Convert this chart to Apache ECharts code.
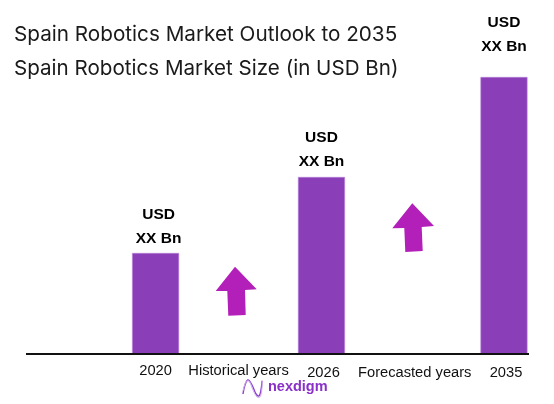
<!DOCTYPE html>
<html>
<head>
<meta charset="utf-8">
<style>html,body{margin:0;padding:0;background:#fff}#main{width:554px;height:404px}</style>
<script src="https://cdn.jsdelivr.net/npm/echarts@6/dist/echarts.min.js"></script>
</head>
<body>
<div id="main"></div>
<script>
// data
var years = ['2020', '2026', '2035'];
var barValues = [101, 177, 277];
var valueText = ['USD', 'XX Bn'];
var periods = ['Historical years', 'Forecasted years'];
// slots on the category axis, bars are not evenly spaced in the picture
var yearSlots = [15, 35, 57];
var periodSlots = [25, 46];
var labelGaps = [2, 3, 18];
var labelShift = [3, 0, 0];
var lowLabels = ['2026', '2035', 'Forecasted years']; // sit a bit lower in the picture
var slotCount = 61;

var categories = [];
var values = [];
for (var i = 0; i < slotCount; i++) {
  categories.push('');
  values.push(null);
}
years.forEach(function (y, k) {
  categories[yearSlots[k]] = y;
  values[yearSlots[k]] = {
    value: barValues[k],
    label: { distance: labelGaps[k], offset: [labelShift[k], 0] }
  };
});
periods.forEach(function (p, k) {
  categories[periodSlots[k]] = p;
});

function arrow(points) {
  return {
    type: 'polygon',
    shape: { points: points },
    style: { fill: '#b31fb9' }
  };
}

var chart = echarts.init(document.getElementById('main'), null, { renderer: 'canvas' });
chart.setOption({
  backgroundColor: '#ffffff',
  animation: false,
  title: [
    {
      text: 'Spain Robotics Market Outlook to 2035',
      left: 9, top: 19,
      textStyle: { fontFamily: 'Inter', fontSize: 20.7, fontWeight: 'normal', color: '#1a1a1a' }
    },
    {
      text: 'Spain Robotics Market Size (in USD Bn)',
      left: 9, top: 53,
      textStyle: { fontFamily: 'Inter', fontSize: 20.6, fontWeight: 'normal', color: '#1a1a1a' }
    }
  ],
  grid: { left: 27, right: 21, top: 54, bottom: 50 },
  xAxis: {
    type: 'category',
    data: categories,
    axisLine: { show: false },
    axisTick: { show: false },
    axisLabel: {
      interval: 0,
      margin: 9,
      fontFamily: 'Liberation Sans',
      fontSize: 14.7,
      color: '#111111',
      formatter: function (v) {
        if (lowLabels.indexOf(v) >= 0) return '{low|' + v + '}';
        return v;
      },
      rich: {
        low: {
          fontFamily: 'Liberation Sans',
          fontSize: 14.7,
          color: '#111111',
          padding: [2, 0, 0, 4]
        }
      }
    }
  },
  yAxis: { type: 'value', min: 0, max: 300, show: false },
  series: [{
    type: 'bar',
    data: values,
    barWidth: 47,
    itemStyle: { color: '#8a3fb8', borderColor: '#b57fd6', borderWidth: 0.6 },
    label: {
      show: true,
      position: 'top',
      formatter: valueText.join('\n'),
      fontFamily: 'Liberation Sans',
      fontWeight: 'bold',
      fontSize: 15.5,
      lineHeight: 24,
      color: '#000000'
    }
  }],
  graphic: [
    // baseline
    { type: 'line', shape: { x1: 26, y1: 354, x2: 529, y2: 354 }, style: { stroke: '#111111', lineWidth: 2 }, z: 10 },
    arrow([[235, 266.7], [256.7, 289.3], [245, 290], [245.7, 315], [228.3, 315.7], [227.3, 291], [215.7, 291]]),
    arrow([[412.3, 203.3], [434, 226], [421.7, 227], [422.7, 251], [405.3, 252], [404.3, 228], [392.3, 228.3]]),
    // nexdigm logo, two strands
    {
      type: 'polyline',
      shape: { points: [[243, 394], [245, 385], [248, 380], [252, 385], [256, 394], [259, 396], [261, 390], [262, 381]], smooth: 0.4 },
      style: { fill: 'none', stroke: '#8a3fd0', lineWidth: 1.4 }
    },
    {
      type: 'polyline',
      shape: { points: [[243, 391], [246, 382], [249, 381], [253, 390], [257, 397], [260, 397], [262, 388], [262, 380]], smooth: 0.4 },
      style: { fill: 'none', stroke: '#d2b0ea', lineWidth: 1 }
    },
    {
      type: 'text',
      x: 268, y: 387,
      style: {
        text: 'nexdigm',
        fontFamily: 'Liberation Sans',
        fontWeight: 'bold',
        fontSize: 14.5,
        fill: '#8a2fc8',
        verticalAlign: 'middle'
      }
    }
  ]
});
</script>
</body>
</html>
